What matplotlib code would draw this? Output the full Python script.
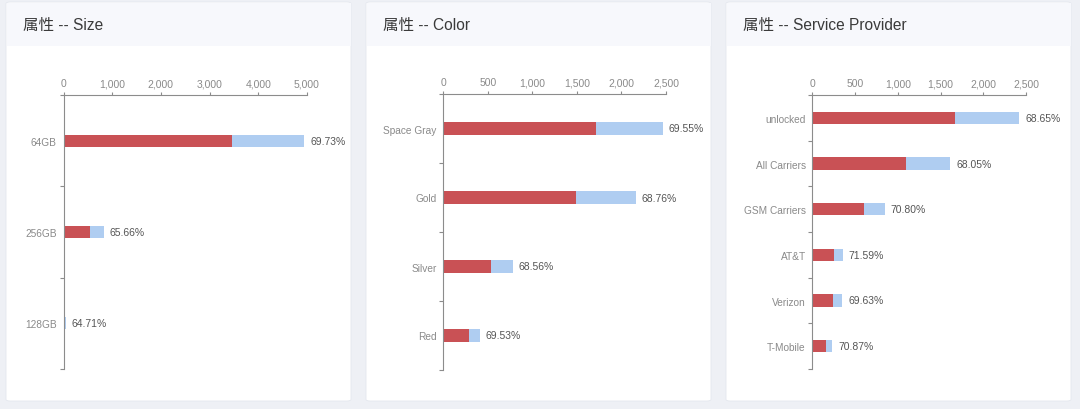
import matplotlib
matplotlib.use('Agg')
import matplotlib.pyplot as plt
from matplotlib.patches import FancyBboxPatch, Rectangle
from matplotlib.ticker import FuncFormatter, FixedLocator

plt.rcParams['font.family'] = ['Liberation Sans', 'Noto Sans CJK SC', 'DejaVu Sans']

# data (red = matched part, total = full bar)
size_cats = ['64GB', '256GB', '128GB']
size_red = [3450, 542, 31]
size_total = [4944, 825, 48]
size_pct = ['69.73%', '65.66%', '64.71%']

color_cats = ['Space Gray', 'Gold', 'Silver', 'Red']
color_red = [1713, 1486, 533, 286]
color_total = [2463, 2160, 779, 410]
color_pct = ['69.55%', '68.76%', '68.56%', '69.53%']

prov_cats = ['unlocked', 'All Carriers', 'GSM Carriers', 'AT&T', 'Verizon', 'T-Mobile']
prov_red = [1664, 1095, 599, 254, 243, 162]
prov_total = [2422, 1611, 847, 355, 351, 230]
prov_pct = ['68.65%', '68.05%', '70.80%', '71.59%', '69.63%', '70.87%']

titles = ['属性 -- Size', '属性 -- Color', '属性 -- Service Provider']
xmaxes = [5000, 2500, 2500]
xsteps = [1000, 500, 500]

W, H = 1080, 410
fig = plt.figure(figsize=(W / 100, H / 100), dpi=100)
fig.patch.set_facecolor('#eef0f5')

RED = '#c95155'
BLUE = '#afcdf1'
AXC = '#8c8c8c'

# panel geometry in pixels: (left, right), and axes (left, right, top, bottom)
panels = [(6, 351), (366, 711), (726, 1071)]
axes_px = [(63.5, 307, 96, 370), (443.3, 666, 95, 371), (812.3, 1026, 96, 370)]

def fx(px):
    return px / W

def fy(py):
    return 1 - py / H

data = [(size_cats, size_red, size_total, size_pct),
        (color_cats, color_red, color_total, color_pct),
        (prov_cats, prov_red, prov_total, prov_pct)]

for i in range(3):
    pl, pr = panels[i]
    # card body
    fig.patches.append(FancyBboxPatch((fx(pl), fy(402)), fx(pr - pl), (402 - 3) / H,
                                      boxstyle='round,pad=0,rounding_size=0.004',
                                      transform=fig.transFigure, facecolor='white',
                                      edgecolor='#e4e7ee', linewidth=0.6, zorder=-2))
    # header band
    fig.patches.append(Rectangle((fx(pl + 0.5), fy(47)), fx(pr - pl - 1), (47 - 3.5) / H,
                                 transform=fig.transFigure, facecolor='#f7f8fc',
                                 edgecolor='none', zorder=-1))
    fig.text(fx(pl + 17), fy(25), titles[i], fontsize=11.2, color='#3a3a3a',
             va='center', ha='left')

    cats, red, total, pct = data[i]
    l, r, t, b = axes_px[i]
    ax = fig.add_axes([fx(l), fy(b), fx(r - l), (b - t) / H])
    n = len(cats)
    ypos = list(range(n))
    band_px = (b - t) / n
    bh = 12.3 / band_px
    blue = [tt - rr for tt, rr in zip(total, red)]
    ax.barh(ypos, red, height=bh, color=RED, zorder=2)
    ax.barh(ypos, blue, left=red, height=bh, color=BLUE, zorder=2)
    off = xmaxes[i] * 6 / (r - l)
    for y, tt, p in zip(ypos, total, pct):
        ax.text(tt + off, y, p, fontsize=7.5, color='#555555', va='center', ha='left')

    ax.set_xlim(0, xmaxes[i])
    ax.set_ylim(n - 0.5, -0.5)
    ax.set_xticks(list(range(0, xmaxes[i] + 1, xsteps[i])))
    ax.xaxis.set_major_formatter(FuncFormatter(lambda v, p: '{:,.0f}'.format(v)))
    ax.xaxis.tick_top()
    ax.tick_params(axis='x', which='major', length=2.5, width=0.8, color=AXC,
                   labelsize=7.5, labelcolor='#8a8a8a', pad=2.5)
    ax.set_yticks(ypos)
    ax.set_yticklabels(cats)
    ax.yaxis.set_minor_locator(FixedLocator([k - 0.5 for k in range(n + 1)]))
    ax.tick_params(axis='y', which='major', length=0, labelsize=7.3,
                   labelcolor='#8a8a8a', pad=4.8)
    ax.tick_params(axis='y', which='minor', length=3, width=0.8, color=AXC)
    for s in ['right', 'bottom']:
        ax.spines[s].set_visible(False)
    for s in ['top', 'left']:
        ax.spines[s].set_color(AXC)
        ax.spines[s].set_linewidth(0.8)
    ax.set_facecolor('none')

fig.savefig('out.png', dpi=100, facecolor=fig.get_facecolor())
